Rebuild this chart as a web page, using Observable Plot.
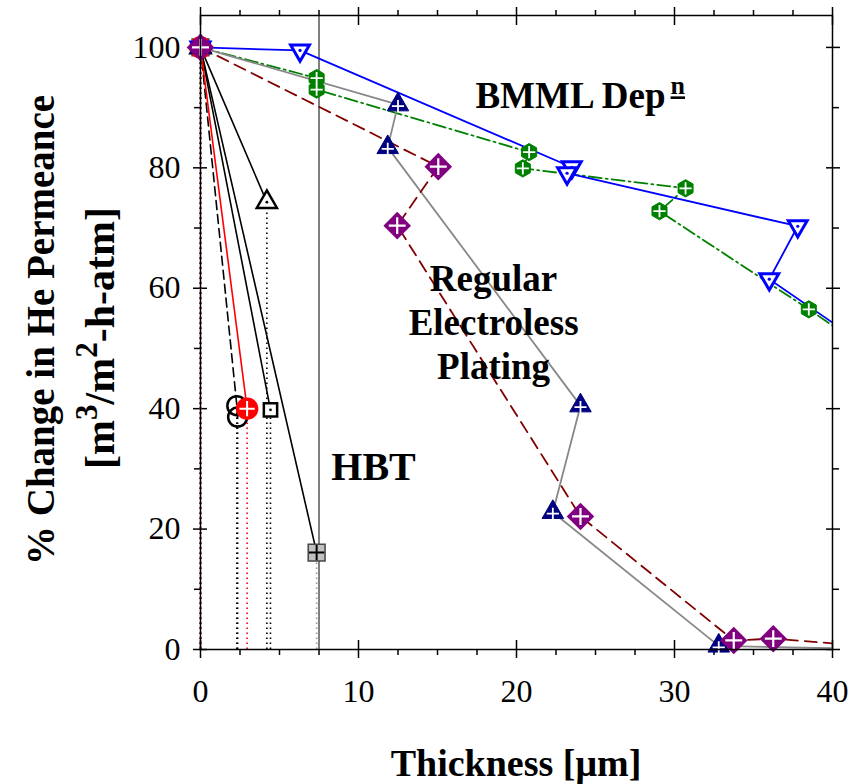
<!DOCTYPE html>
<html>
<head>
<meta charset="utf-8">
<script src="https://cdn.jsdelivr.net/npm/d3@7"></script>
<script src="https://cdn.jsdelivr.net/npm/@observablehq/plot@0.6"></script>
<style>
  body { margin: 0; background: #fff; }
  #chart svg { display: block; }
</style>
</head>
<body>
<div id="chart"></div>
<script>
// Axis extents and ticks
const xDomain = [0, 40];
const yDomain = [0, 105.3];
const xMajor = [0, 10, 20, 30, 40];
const xMinor = [2.5, 5, 7.5, 12.5, 15, 17.5, 22.5, 25, 27.5, 32.5, 35, 37.5];
const yMajor = [0, 20, 40, 60, 80, 100];
const yMinor = [10, 30, 50, 70, 90];

// HBT deposits (thickness in µm, % of initial He permeance)
const hbtCircleX = [0, 2.3, 2.35];
const hbtCircleY = [100, 40.5, 38.6];
const hbtRedX = [0, 2.95];
const hbtRedY = [100, 40.0];
const hbtSquareX = [0, 4.43];
const hbtSquareY = [100, 39.8];
const hbtTriangleX = [0, 4.2];
const hbtTriangleY = [100, 74.3];
const hbtGrayX = [0, 7.35];
const hbtGrayY = [100, 16.1];
const hbtLimit = 7.5;

// Regular electroless plating
const elpNavyX = [0, 12.5, 11.85, 24.05, 22.3, 32.8, 42];
const elpNavyY = [100, 90.5, 83.4, 40.5, 22.8, 0.6, 0.1];
const elpPurpleX = [0, 15.05, 12.45, 24.05, 33.75, 36.25, 42];
const elpPurpleY = [100, 80.2, 70.4, 22.1, 1.5, 1.8, 0.6];

// BMML deposition
const bmmlBlueX = [0, 6.3, 23.5, 23.2, 37.8, 36.0, 41];
const bmmlBlueY = [100, 99.5, 80.1, 79.1, 70.3, 61.5, 52.5];
const bmmlGreenX = [0, 7.35, 7.35, 20.8, 20.4, 30.7, 29.05, 38.5, 41];
const bmmlGreenY = [100, 94.9, 93.0, 82.6, 79.9, 76.6, 72.8, 56.5, 52.0];

const pts = (xs, ys) => xs.map((x, i) => ({x, y: ys[i]}));
const shown = (d) => d.x <= xDomain[1];

const hbtCircle = pts(hbtCircleX, hbtCircleY);
const hbtRed = pts(hbtRedX, hbtRedY);
const hbtSquare = pts(hbtSquareX, hbtSquareY);
const hbtTriangle = pts(hbtTriangleX, hbtTriangleY);
const hbtGray = pts(hbtGrayX, hbtGrayY);
const elpNavy = pts(elpNavyX, elpNavyY);
const elpPurple = pts(elpPurpleX, elpPurpleY);
const bmmlBlue = pts(bmmlBlueX, bmmlBlueY);
const bmmlGreen = pts(bmmlGreenX, bmmlGreenY);

const serif = "Liberation Serif";
const xy = {x: "x", y: "y"};
const drop = (data, stroke) => Plot.ruleX(data, {x: "x", y1: 0, y2: "y", stroke, strokeWidth: 1.6, strokeDasharray: "1.5,3.5"});

const plot = Plot.plot({
  width: 852,
  height: 784,
  marginLeft: 200,
  marginRight: 20,
  marginTop: 15,
  marginBottom: 135,
  style: {fontFamily: serif, background: "white", color: "black"},
  x: {domain: xDomain},
  y: {domain: yDomain},
  marks: [
    // tick marks on all four sides: majors cross the frame, minors point outward
    Plot.axisX({ticks: xMajor, anchor: "bottom", tickSize: 18, dy: -9, fill: "none", strokeWidth: 1.5, label: null}),
    Plot.axisX({ticks: xMinor, anchor: "bottom", tickSize: 6, fill: "none", strokeWidth: 1.5, label: null}),
    Plot.axisX({ticks: xMajor, anchor: "top", tickSize: 18, dy: 9, fill: "none", strokeWidth: 1.5, label: null}),
    Plot.axisX({ticks: xMinor, anchor: "top", tickSize: 6, fill: "none", strokeWidth: 1.5, label: null}),
    Plot.axisY({ticks: yMajor, anchor: "left", tickSize: 14, dx: 7, fill: "none", strokeWidth: 1.5, label: null}),
    Plot.axisY({ticks: yMinor, anchor: "left", tickSize: 6, fill: "none", strokeWidth: 1.5, label: null}),
    Plot.axisY({ticks: yMajor, anchor: "right", tickSize: 14, dx: -7, fill: "none", strokeWidth: 1.5, label: null}),
    Plot.axisY({ticks: yMinor, anchor: "right", tickSize: 6, fill: "none", strokeWidth: 1.5, label: null}),
    Plot.axisX({ticks: xMajor, anchor: "bottom", tickSize: 0, tickPadding: 30, fontSize: 32, fontFamily: serif, label: null}),
    Plot.axisY({ticks: yMajor, anchor: "left", tickSize: 0, tickPadding: 20, fontSize: 32, fontFamily: serif, label: null}),

    // HBT thickness limit
    Plot.ruleX([hbtLimit], {stroke: "#555", strokeWidth: 1.5}),

    // HBT drop lines to the thickness axis
    drop(hbtCircle, "black"),
    drop(hbtTriangle, "black"),
    drop(hbtSquare, "black"),
    drop(hbtGray, "#999"),
    drop(hbtRed, "red"),

    // HBT curves
    Plot.line(hbtCircle, {...xy, stroke: "black", strokeWidth: 1.6, strokeDasharray: "9,5"}),
    Plot.line(hbtTriangle, {...xy, stroke: "black", strokeWidth: 1.6}),
    Plot.line(hbtSquare, {...xy, stroke: "black", strokeWidth: 1.6}),
    Plot.line(hbtGray, {...xy, stroke: "black", strokeWidth: 1.6}),
    Plot.line(hbtRed, {...xy, stroke: "red", strokeWidth: 1.6}),

    // BMML curves
    Plot.line(bmmlGreen, {...xy, stroke: "#008000", strokeWidth: 1.8, strokeDasharray: "13,4,2,4", clip: true}),
    Plot.line(bmmlBlue, {...xy, stroke: "#0000ff", strokeWidth: 1.8, clip: true}),

    // Electroless plating curves
    Plot.line(elpNavy, {...xy, stroke: "#888", strokeWidth: 1.8, clip: true}),
    Plot.line(elpPurple, {...xy, stroke: "#800000", strokeWidth: 1.8, strokeDasharray: "12,7", clip: true}),

    // HBT markers
    Plot.dot(hbtCircle, {...xy, r: 9.5, stroke: "black", strokeWidth: 2.5, fill: "none"}),
    Plot.dot(hbtTriangle, {...xy, symbol: "triangle", r: 7.5, stroke: "black", strokeWidth: 2.5, fill: "white"}),
    Plot.dot(hbtTriangle, {...xy, r: 1.4, fill: "black"}),
    Plot.dot(hbtSquare, {...xy, symbol: "square", r: 7.5, stroke: "black", strokeWidth: 2.5, fill: "white"}),
    Plot.dot(hbtSquare, {...xy, r: 1.4, fill: "black"}),
    Plot.dot(hbtGray, {...xy, symbol: "square", r: 9.5, stroke: "#444", strokeWidth: 1.5, fill: "#c0c0c0"}),
    Plot.dot(hbtGray, {...xy, symbol: "plus", r: 5, stroke: "black", strokeWidth: 2}),
    Plot.dot(hbtRed, {...xy, r: 10.5, fill: "red", stroke: "red"}),
    Plot.dot(hbtRed, {...xy, symbol: "plus", r: 5, stroke: "white", strokeWidth: 2}),

    // BMML markers
    Plot.dot(bmmlGreen.filter(shown), {...xy, symbol: "hexagon", r: 7.5, fill: "#008000", stroke: "#008000", strokeWidth: 1}),
    Plot.dot(bmmlGreen.filter(shown), {...xy, symbol: "plus", r: 4, stroke: "white", strokeWidth: 1.8}),
    Plot.dot(bmmlBlue.filter(shown), {...xy, symbol: "triangle", rotate: 180, r: 7, stroke: "#0000ff", strokeWidth: 3, fill: "white"}),
    Plot.dot(bmmlBlue.filter(shown), {...xy, r: 1.6, fill: "#0000ff"}),

    // Electroless plating markers
    Plot.dot(elpNavy.filter(shown), {...xy, symbol: "triangle", r: 8, fill: "#000080", stroke: "#000080", strokeWidth: 1}),
    Plot.dot(elpNavy.filter(shown), {...xy, symbol: "plus", r: 4, dy: 1.5, stroke: "white", strokeWidth: 1.8}),
    Plot.dot(elpPurple.filter(shown), {...xy, symbol: "square", rotate: 45, r: 11, fill: "#800080"}),
    Plot.dot(elpPurple.filter(shown), {...xy, symbol: "plus", r: 5.5, stroke: "white", strokeWidth: 2.2}),

    // group annotations
    Plot.text(["HBT"], {x: 10.95, y: 28.2, text: (d) => d, fontSize: 40, fontWeight: "bold", fontFamily: serif, textAnchor: "middle", lineAnchor: "bottom", fill: "black"}),
    Plot.text(["Regular\nElectroless\nPlating"], {x: 18.55, y: 45.0, text: (d) => d, fontSize: 37, lineHeight: 1.19, fontWeight: "bold", fontFamily: serif, textAnchor: "middle", lineAnchor: "bottom", fill: "black"}),
    Plot.text(["BMML Dep"], {x: 17.4, y: 89.9, text: (d) => d, fontSize: 37, fontWeight: "bold", fontFamily: serif, textAnchor: "start", lineAnchor: "bottom", fill: "black"}),
    Plot.text(["n"], {x: 29.75, y: 92.2, text: (d) => d, fontSize: 26, fontWeight: "bold", fontFamily: serif, textAnchor: "start", lineAnchor: "bottom", fill: "black"}),

    Plot.frame({stroke: "black", strokeWidth: 1.5})
  ]
});

const svg = d3.select(plot);

// underline the superscript of "Depⁿ"
svg.selectAll("text").filter(function () { return this.textContent === "n"; })
  .style("text-decoration", "underline");

// axis titles
const titles = svg.append("g")
  .attr("font-family", serif)
  .attr("font-weight", "bold")
  .attr("text-anchor", "middle")
  .attr("fill", "black");

titles.append("text")
  .attr("x", 516).attr("y", 776)
  .attr("font-size", 38)
  .text("Thickness [μm]");

titles.append("text")
  .attr("transform", "translate(54,330) rotate(-90)")
  .attr("font-size", 39)
  .text("% Change in He Permeance");

const units = titles.append("text")
  .attr("transform", "translate(114,338) rotate(-90)")
  .attr("font-size", 42);
units.append("tspan").text("[m");
units.append("tspan").attr("dy", -17).attr("font-size", 31).text("3");
units.append("tspan").attr("dy", 17).text("/m");
units.append("tspan").attr("dy", -17).attr("font-size", 31).text("2");
units.append("tspan").attr("dy", 17).text("-h-atm]");

document.getElementById("chart").appendChild(plot);
</script>
</body>
</html>
